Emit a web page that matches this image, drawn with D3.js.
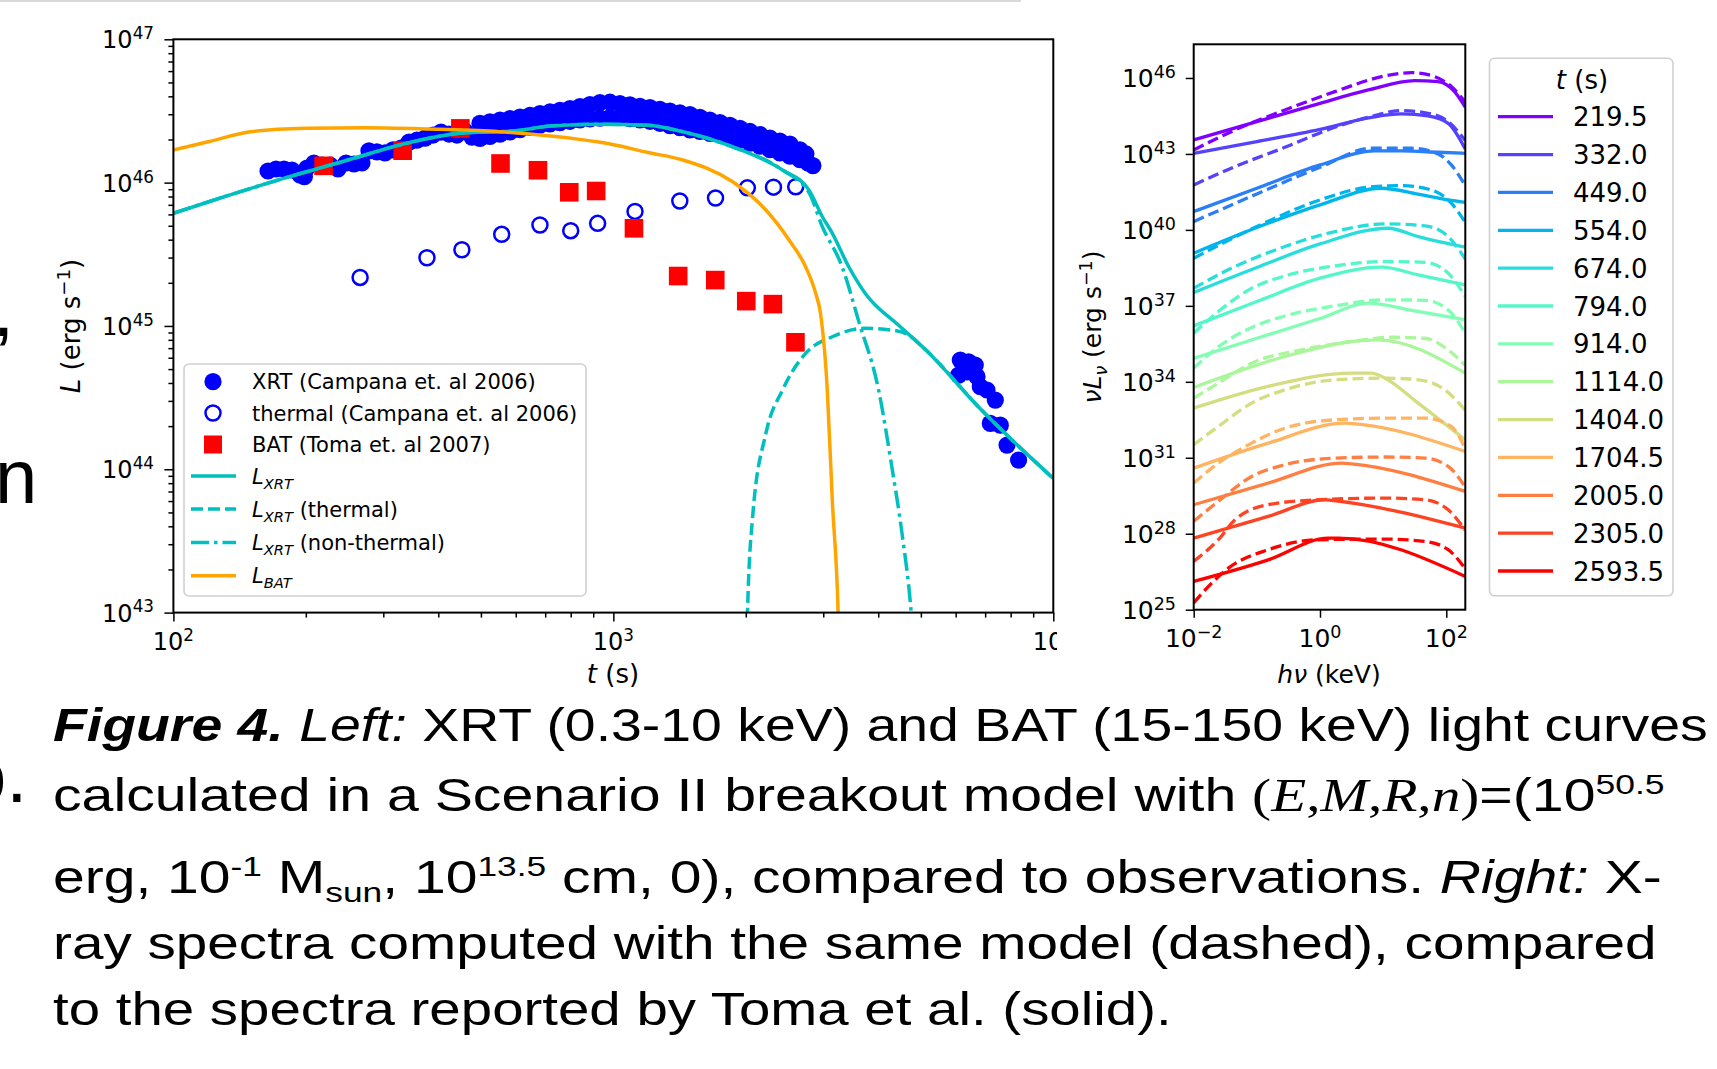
<!DOCTYPE html>
<html>
<head>
<meta charset="utf-8">
<script src="https://cdn.jsdelivr.net/npm/d3@7"></script>
<style>
body { margin: 0; background: #fff; }
svg { display: block; font-family: "DejaVu Sans", sans-serif; }
</style>
</head>
<body>
<div id="fig"></div>
<script>
// ---------- left panel data ----------
// XRT points (Campana et al. 2006): log10 t [s], log10 L [erg/s]
var xrtLogT = [2.2150, 2.2332, 2.2514, 2.2695, 2.2877, 2.2977, 2.3036, 2.3195, 2.3377, 2.3559, 2.3741, 2.3923, 2.4105, 2.4286,
    2.4445, 2.4627, 2.4809, 2.4991, 2.5173, 2.5355, 2.5536, 2.5718, 2.5900, 2.6082, 2.6264, 2.6445, 2.6627, 2.6786,
    // upper edge of the dense band
    2.6968, 2.7195, 2.7423, 2.7650, 2.7877, 2.8105, 2.8332, 2.8559, 2.8786, 2.9014, 2.9241, 2.9468, 2.9695, 2.9923,
    3.0150, 3.0377, 3.0605, 3.0832, 3.1059, 3.1286, 3.1514, 3.1741, 3.1968, 3.2195, 3.2423, 3.2650, 3.2877, 3.3105,
    3.3332, 3.3559, 3.3786, 3.4014, 3.4241, 3.4377,
    // lower edge of the dense band
    2.6968, 2.7195, 2.7423, 2.7650, 2.7877, 2.8105, 2.8332, 2.8559, 2.8786, 2.9014, 2.9241, 2.9468, 2.9695, 2.9923,
    3.0150, 3.0377, 3.0605, 3.0832, 3.1059, 3.1286, 3.1514, 3.1741, 3.1968, 3.2195, 3.2423, 3.2650, 3.2877, 3.3105,
    3.3332, 3.3559, 3.3786, 3.4014, 3.4241, 3.4423, 3.4536,
    // late points
    3.7886, 3.8075, 3.8227, 3.7848, 3.8039, 3.8266, 3.8341, 3.8493, 3.8682, 3.8568, 3.8795, 3.8948, 3.9211];
var xrtLogL = [46.081, 46.095, 46.095, 46.088, 46.053, 46.041, 46.102, 46.137, 46.123, 46.123, 46.095, 46.137, 46.130, 46.137,
    46.221, 46.214, 46.207, 46.228, 46.241, 46.283, 46.297, 46.311, 46.332, 46.353, 46.339, 46.332, 46.360, 46.318,
    46.413, 46.424, 46.436, 46.447, 46.458, 46.470, 46.482, 46.493, 46.505, 46.517, 46.530, 46.544, 46.558, 46.561,
    46.551, 46.542, 46.532, 46.523, 46.512, 46.499, 46.486, 46.474, 46.456, 46.437, 46.419, 46.400, 46.378, 46.357,
    46.335, 46.311, 46.290, 46.269, 46.228, 46.200,
    46.309, 46.323, 46.338, 46.354, 46.369, 46.385, 46.401, 46.410, 46.419, 46.428, 46.438, 46.444, 46.450, 46.456,
    46.456, 46.447, 46.438, 46.428, 46.414, 46.398, 46.383, 46.368, 46.357, 46.344, 46.332, 46.319, 46.297, 46.276,
    46.255, 46.230, 46.207, 46.184, 46.160, 46.137, 46.119,
    44.762, 44.750, 44.727, 44.657, 44.680, 44.646, 44.576, 44.553, 44.483, 44.320, 44.308, 44.169, 44.064];

// thermal component (open circles), t in s, L in erg/s
var thermT = [265.7, 377, 452.6, 557.5, 681, 800, 921, 1120, 1416, 1707, 2016, 2312, 2597];
var thermL = [2.18e45, 2.99e45, 3.4e45, 4.36e45, 5.06e45, 4.62e45, 5.2e45, 6.3e45, 7.44e45, 7.81e45, 9.2e45, 9.3e45, 9.36e45];

// BAT (Toma et al. 2007)
var batT = [219.5, 332, 449, 554, 674, 794, 914, 1114, 1404, 1704.5, 2005, 2305, 2593.5];
var batL = [1.31e46, 1.67e46, 2.39e46, 1.36e46, 1.22e46, 8.56e45, 8.74e45, 4.8e45, 2.23e45, 2.09e45, 1.49e45, 1.42e45, 7.69e44];

// model curves
var lxrtT = [100, 130, 178, 245, 350, 447, 600, 719, 919, 1200, 1439, 1867, 2424, 2785, 2986, 3146, 3428, 3738, 4446, 5112, 6868, 10000];
var lxrtL = [6.11e45, 7.94e45, 1.07e46, 1.416e46, 1.928e46, 2.208e46, 2.301e46, 2.483e46, 2.553e46, 2.512e46, 2.265e46, 1.778e46,
    1.225e46, 8.87e45, 5.78e45, 4.43e45, 2.588e45, 1.687e45, 1.014e45, 6.87e44, 2.588e44, 8.63e43];

var lthT = [2000, 2018, 2073, 2222, 2424, 2735, 3145, 3740, 4295, 4689, 5112, 6868, 10000];
var lthL = [1e42, 1e43, 4.66e43, 1.78e44, 3.57e44, 6.44e44, 8.41e44, 9.62e44, 9.35e44, 8.65e44, 6.87e44, 2.59e44, 8.63e43];

var lntT = [100, 130, 178, 245, 350, 447, 600, 719, 919, 1200, 1439, 1867, 2424, 2785, 2986, 3311, 3614, 4008, 4295, 4530, 4753, 4900];
var lntL = [6.11e45, 7.94e45, 1.07e46, 1.416e46, 1.928e46, 2.208e46, 2.301e46, 2.483e46, 2.553e46, 2.512e46, 2.265e46, 1.778e46,
    1.225e46, 8.51e45, 4.92e45, 2.59e45, 1.072e45, 3.57e44, 1.04e44, 3.57e43, 1e43, 2.5e42];

var lbatT = [100, 120, 150, 200, 271, 400, 550, 719, 983, 1200, 1439, 1867, 2222, 2508, 2735, 2884, 2957, 3064, 3145, 3243, 3300];
var lbatL = [1.687e46, 1.928e46, 2.265e46, 2.393e46, 2.415e46, 2.355e46, 2.265e46, 2.113e46, 1.858e46, 1.622e46, 1.439e46, 1.014e46,
    6.44e45, 3.98e45, 2.59e45, 1.687e45, 1.224e45, 3.57e44, 6.10e43, 1e43, 1e42];

// ---------- right panel data: [log10(hv/keV), log10(vLv)] ----------
var specTimes = ["219.5", "332.0", "449.0", "554.0", "674.0", "794.0", "914.0", "1114.0", "1404.0", "1704.5", "2005.0", "2305.0", "2593.5"];

var specSolid = [
    [[-2, 43.553], [-1, 44.276], [0, 45.0], [0.765, 45.526], [1.5, 45.895], [1.87, 45.855], [2.13, 45.46], [2.3, 44.85]],
    [[-2, 43.026], [-1, 43.487], [0, 43.97], [0.816, 44.447], [1.29, 44.579], [1.71, 44.5], [2.03, 44.21], [2.3, 43.2]],
    [[-2, 40.724], [-1, 41.645], [0, 42.566], [0.87, 43.118], [1.29, 43.118], [1.87, 43.066], [2.3, 43.026]],
    [[-2, 39.079], [-1, 40.092], [0, 40.987], [0.975, 41.645], [1.555, 41.408], [2.03, 41.184], [2.3, 41.09]],
    [[-2, 37.526], [-1, 38.513], [0, 39.447], [1.08, 40.066], [1.555, 39.737], [2.3, 39.316]],
    [[-2, 36.21], [-1, 37.17], [0, 38.092], [0.975, 38.526], [1.555, 38.224], [2.3, 37.83]],
    [[-2, 34.93], [-1, 35.72], [0, 36.5], [0.765, 37.105], [1.5, 36.8], [2.3, 36.45]],
    [[-2, 33.776], [-0.555, 35.0], [0.5, 35.592], [0.922, 35.658], [2.3, 34.342]],
    [[-2, 32.96], [-0.82, 33.82], [0.5, 34.34], [0.817, 34.34], [1.03, 34.145], [1.555, 33.158], [2.3, 31.71]],
    [[-2, 30.59], [-0.82, 31.58], [0.395, 32.368], [0.606, 32.33], [2.3, 31.25]],
    [[-2, 29.145], [-0.82, 30.0], [0.342, 30.79], [0.5, 30.76], [2.3, 29.671]],
    [[-2, 27.83], [-0.82, 28.684], [0.078, 29.342], [0.184, 29.316], [2.3, 28.224]],
    [[-2, 26.118], [-0.82, 26.97], [0.13, 27.829], [0.29, 27.829], [2.3, 26.316]]
];

var specModel = [
    [[-2, 43.158], [-1.346, 43.947], [-0.555, 44.737], [0.236, 45.46], [1.03, 46.08], [1.45, 46.21], [1.82, 46.05], [2.08, 45.66], [2.3, 45.05]],
    [[-2, 41.776], [-1.346, 42.5], [-0.555, 43.263], [0.236, 44.053], [0.765, 44.447], [1.29, 44.71], [1.71, 44.605], [2.03, 44.276], [2.3, 43.53]],
    [[-2, 40.33], [-1, 41.42], [0, 42.474], [0.816, 43.224], [1.45, 43.224], [1.87, 43.0], [2.08, 42.566], [2.3, 41.75]],
    [[-2, 38.882], [-1, 40.132], [0, 41.184], [0.765, 41.684], [1.29, 41.75], [1.76, 41.579], [2.08, 41.053], [2.3, 40.3]],
    [[-2, 37.697], [-1.346, 38.553], [-0.555, 39.342], [0.236, 39.934], [1.03, 40.237], [1.66, 40.158], [2.03, 39.737], [2.3, 38.85]],
    [[-2, 35.92], [-1.61, 36.776], [-1.08, 37.697], [-0.555, 38.184], [0.236, 38.579], [1.03, 38.75], [1.66, 38.72], [2.03, 38.29], [2.3, 37.37]],
    [[-2, 34.54], [-1.6, 35.4], [-1.08, 36.15], [-0.555, 36.6], [0.236, 37.0], [1.03, 37.24], [1.66, 37.22], [2.03, 36.84], [2.3, 35.92]],
    [[-2, 33.355], [-1.61, 33.947], [-1.082, 34.737], [-0.291, 35.263], [0.5, 35.59], [1.13, 35.76], [1.66, 35.72], [2.03, 35.26], [2.3, 34.65]],
    [[-2, 31.513], [-1.61, 32.237], [-1.08, 33.16], [-0.555, 33.684], [0.236, 34.08], [1.03, 34.145], [1.555, 34.08], [1.977, 33.684], [2.3, 32.88]],
    [[-2, 30.0], [-1.61, 30.79], [-1.082, 31.58], [-0.555, 32.17], [0.236, 32.5], [1.03, 32.566], [1.66, 32.566], [2.08, 32.237], [2.3, 31.36]],
    [[-2, 28.487], [-1.61, 29.28], [-1.08, 30.263], [-0.555, 30.724], [0.236, 30.987], [1.03, 31.03], [1.66, 30.987], [2.03, 30.66], [2.3, 29.85]],
    [[-2, 26.908], [-1.61, 27.763], [-1.346, 28.55], [-0.82, 29.145], [-0.028, 29.342], [1.03, 29.408], [1.66, 29.342], [2.03, 28.947], [2.3, 28.14]],
    [[-2, 25.263], [-1.715, 26.05], [-1.45, 26.64], [-0.82, 27.37], [-0.028, 27.763], [1.03, 27.79], [1.66, 27.697], [2.03, 27.37], [2.3, 26.62]]
];

// ---------- setup ----------
var svg = d3.select("#fig").append("svg")
    .attr("width", 1717)
    .attr("height", 1069);

// matplotlib "rainbow" colormap
function rainbow(v) {
    var r = Math.min(1, Math.abs(2 * v - 0.5));
    var g = Math.sin(Math.PI * v);
    var b = Math.cos(Math.PI * v / 2);
    return d3.rgb(r * 255, g * 255, b * 255).formatHex();
}

// text built from pieces (for sub/superscripts and mixed styles)
function richText(g, x, y, segs, size, family) {
    var t = g.append("text").attr("x", x).attr("y", y).attr("font-size", size);
    if (family) t.attr("font-family", family);
    var cur = 0;
    segs.forEach(function(s) {
        var sh = (s.shift || 0) * size;
        var ts = t.append("tspan").attr("dy", sh - cur).text(s.t);
        cur = sh;
        if (s.size) ts.attr("font-size", s.size * size);
        if (s.italic) ts.attr("font-style", "italic");
        if (s.bold) ts.attr("font-weight", "bold");
        if (s.family) ts.attr("font-family", s.family);
    });
    return t;
}

function powLabel(g, x, y, exp, size, anchor) {
    return richText(g, x, y, [{t: "10"}, {t: exp, shift: -0.38, size: 0.7}], size).attr("text-anchor", anchor);
}

function zip(a, b) { return a.map((v, i) => [v, b[i]]); }

// thin grey rule at top
svg.append("rect").attr("x", 0).attr("y", 0).attr("width", 1021).attr("height", 2).attr("fill", "#d9d9d9");

// ================= LEFT PANEL =================
var lp = {left: 173.4, right: 1053.3, top: 39.3, bottom: 612.6};
var xL = d3.scaleLog().domain([100, 10000]).range([lp.left, lp.right]);
var yL = d3.scaleLog().domain([1e43, 1e47]).range([lp.bottom, lp.top]);

svg.append("clipPath").attr("id", "clipL").append("rect")
    .attr("x", lp.left).attr("y", lp.top)
    .attr("width", lp.right - lp.left).attr("height", lp.bottom - lp.top);

var gl = svg.append("g");
var plotL = gl.append("g").attr("clip-path", "url(#clipL)");

// markers
plotL.append("g").selectAll("circle")
    .data(d3.range(xrtLogT.length))
    .enter().append("circle")
    .attr("cx", i => xL(Math.pow(10, xrtLogT[i])))
    .attr("cy", i => yL(Math.pow(10, xrtLogL[i])))
    .attr("r", 8.6)
    .attr("fill", "#0000ff");

plotL.append("g").selectAll("circle")
    .data(d3.range(thermT.length))
    .enter().append("circle")
    .attr("cx", i => xL(thermT[i]))
    .attr("cy", i => yL(thermL[i]))
    .attr("r", 7.5)
    .attr("fill", "none")
    .attr("stroke", "#0000ff")
    .attr("stroke-width", 2.5);

plotL.append("g").selectAll("rect")
    .data(d3.range(batT.length))
    .enter().append("rect")
    .attr("x", i => xL(batT[i]) - 9.3)
    .attr("y", i => yL(batL[i]) - 9.3)
    .attr("width", 18.6)
    .attr("height", 18.6)
    .attr("fill", "#ff0000");

// model curves
var lineL = d3.line()
    .x(d => xL(d[0]))
    .y(d => yL(d[1]))
    .curve(d3.curveMonotoneX);

plotL.append("path").datum(zip(lxrtT, lxrtL))
    .attr("d", lineL).attr("fill", "none").attr("stroke", "#00bfbf").attr("stroke-width", 3.5);
plotL.append("path").datum(zip(lthT, lthL))
    .attr("d", lineL).attr("fill", "none").attr("stroke", "#00bfbf").attr("stroke-width", 3.5)
    .attr("stroke-dasharray", "12,5");
plotL.append("path").datum(zip(lntT, lntL))
    .attr("d", lineL).attr("fill", "none").attr("stroke", "#00bfbf").attr("stroke-width", 3.5)
    .attr("stroke-dasharray", "18,5,3.5,5");
plotL.append("path").datum(zip(lbatT, lbatL))
    .attr("d", lineL).attr("fill", "none").attr("stroke", "#ffa500").attr("stroke-width", 3.5);

// axes
var minorX = [], minorY = [];
[100, 1000].forEach(function(d) { for (var m = 2; m < 10; m++) minorX.push(m * d); });
[1e43, 1e44, 1e45, 1e46].forEach(function(d) { for (var m = 2; m < 10; m++) minorY.push(m * d); });

function styleAxis(g) {
    g.select(".domain").remove();
    g.selectAll("line").attr("stroke", "#000").attr("stroke-width", 1.5);
}

gl.append("g").attr("transform", `translate(0, ${lp.bottom})`)
    .call(d3.axisBottom(xL).tickValues([100, 1000, 10000]).tickSize(9).tickFormat(""))
    .call(styleAxis);
gl.append("g").attr("transform", `translate(0, ${lp.bottom})`)
    .call(d3.axisBottom(xL).tickValues(minorX).tickSize(5).tickFormat(""))
    .call(styleAxis);
gl.append("g").attr("transform", `translate(${lp.left}, 0)`)
    .call(d3.axisLeft(yL).tickValues([1e43, 1e44, 1e45, 1e46, 1e47]).tickSize(9).tickFormat(""))
    .call(styleAxis);
gl.append("g").attr("transform", `translate(${lp.left}, 0)`)
    .call(d3.axisLeft(yL).tickValues(minorY).tickSize(5).tickFormat(""))
    .call(styleAxis);

[[100, "2"], [1000, "3"], [10000, "4"]].forEach(function(d) {
    powLabel(gl, xL(d[0]), 650, d[1], 24, "middle");
});
[[1e43, "43"], [1e44, "44"], [1e45, "45"], [1e46, "46"], [1e47, "47"]].forEach(function(d) {
    powLabel(gl, 154, yL(d[0]) + 9, d[1], 24, "end");
});

gl.append("rect")
    .attr("x", lp.left).attr("y", lp.top)
    .attr("width", lp.right - lp.left).attr("height", lp.bottom - lp.top)
    .attr("fill", "none").attr("stroke", "#000").attr("stroke-width", 2);

// axis labels
richText(gl, 613, 683, [{t: "t", italic: true}, {t: " (s)"}], 26).attr("text-anchor", "middle");
richText(gl.append("g").attr("transform", "translate(80, 326) rotate(-90)"), 0, 0,
    [{t: "L", italic: true}, {t: " (erg s"}, {t: "\u22121", shift: -0.38, size: 0.7}, {t: ")", shift: 0}], 26)
    .attr("text-anchor", "middle");

// legend (left)
var lg = gl.append("g");
lg.append("rect").attr("x", 184).attr("y", 364).attr("width", 402).attr("height", 232)
    .attr("rx", 5).attr("fill", "#fff").attr("fill-opacity", 0.8)
    .attr("stroke", "#d0d0d0").attr("stroke-width", 1.6);
var rows = [381.7, 413, 444.5, 476, 509, 542.5, 575.7];
lg.append("circle").attr("cx", 213).attr("cy", rows[0]).attr("r", 8.6).attr("fill", "#0000ff");
lg.append("circle").attr("cx", 213).attr("cy", rows[1]).attr("r", 7.5).attr("fill", "none")
    .attr("stroke", "#0000ff").attr("stroke-width", 2.5);
lg.append("rect").attr("x", 204).attr("y", rows[2] - 9).attr("width", 18).attr("height", 18).attr("fill", "#ff0000");
lg.append("line").attr("x1", 191).attr("x2", 236).attr("y1", rows[3]).attr("y2", rows[3])
    .attr("stroke", "#00bfbf").attr("stroke-width", 3.5);
lg.append("line").attr("x1", 191).attr("x2", 236).attr("y1", rows[4]).attr("y2", rows[4])
    .attr("stroke", "#00bfbf").attr("stroke-width", 3.5).attr("stroke-dasharray", "12,5");
lg.append("line").attr("x1", 191).attr("x2", 236).attr("y1", rows[5]).attr("y2", rows[5])
    .attr("stroke", "#00bfbf").attr("stroke-width", 3.5).attr("stroke-dasharray", "18,5,3.5,5");
lg.append("line").attr("x1", 191).attr("x2", 236).attr("y1", rows[6]).attr("y2", rows[6])
    .attr("stroke", "#ffa500").attr("stroke-width", 3.5);

var legTexts = [
    [{t: "XRT (Campana et. al 2006)"}],
    [{t: "thermal (Campana et. al 2006)"}],
    [{t: "BAT (Toma et. al 2007)"}],
    [{t: "L", italic: true}, {t: "XRT", italic: true, size: 0.7, shift: 0.25}],
    [{t: "L", italic: true}, {t: "XRT", italic: true, size: 0.7, shift: 0.25}, {t: " (thermal)", shift: 0}],
    [{t: "L", italic: true}, {t: "XRT", italic: true, size: 0.7, shift: 0.25}, {t: " (non-thermal)", shift: 0}],
    [{t: "L", italic: true}, {t: "BAT", italic: true, size: 0.7, shift: 0.25}]
];
legTexts.forEach(function(s, i) {
    richText(lg, 252, rows[i] + 7.5, s, 21);
});

// cropped edge of the 10^4 label
svg.append("rect").attr("x", 1057).attr("y", 616).attr("width", 22).attr("height", 45).attr("fill", "#fff");

// ================= RIGHT PANEL =================
var rp = {left: 1193.7, right: 1465.3, top: 44.3, bottom: 609.7};
var xR = d3.scaleLog().domain([0.01, 200]).range([rp.left, rp.right]);
var yR = d3.scaleLog().domain([1e25, Math.pow(10, 47.33)]).range([rp.bottom, rp.top]);

svg.append("clipPath").attr("id", "clipR").append("rect")
    .attr("x", rp.left).attr("y", rp.top)
    .attr("width", rp.right - rp.left).attr("height", rp.bottom - rp.top);

var gr = svg.append("g");
var plotR = gr.append("g").attr("clip-path", "url(#clipR)");

var lineR = d3.line()
    .x(d => xR(Math.pow(10, d[0])))
    .y(d => yR(Math.pow(10, d[1])))
    .curve(d3.curveMonotoneX);

specTimes.forEach(function(t, i) {
    var col = rainbow(i / (specTimes.length - 1));
    plotR.append("path").datum(specSolid[i])
        .attr("d", lineR).attr("fill", "none").attr("stroke", col).attr("stroke-width", 3.3);
    plotR.append("path").datum(specModel[i])
        .attr("d", lineR).attr("fill", "none").attr("stroke", col).attr("stroke-width", 3.3)
        .attr("stroke-dasharray", "11,5");
});

var yTicksR = [25, 28, 31, 34, 37, 40, 43, 46];
gr.append("g").attr("transform", `translate(${rp.left}, 0)`)
    .call(d3.axisLeft(yR).tickValues(yTicksR.map(e => Math.pow(10, e))).tickSize(8).tickFormat(""))
    .call(styleAxis);
gr.append("g").attr("transform", `translate(0, ${rp.bottom})`)
    .call(d3.axisBottom(xR).tickValues([0.01, 1, 100]).tickSize(8).tickFormat(""))
    .call(styleAxis);

yTicksR.forEach(function(e) {
    powLabel(gr, 1176, yR(Math.pow(10, e)) + 9.5, String(e), 25, "end");
});
[[0.01, "\u22122"], [1, "0"], [100, "2"]].forEach(function(d) {
    powLabel(gr, xR(d[0]), 647, d[1], 25, "middle");
});

gr.append("rect")
    .attr("x", rp.left).attr("y", rp.top)
    .attr("width", rp.right - rp.left).attr("height", rp.bottom - rp.top)
    .attr("fill", "none").attr("stroke", "#000").attr("stroke-width", 2);

richText(gr, 1329, 683, [{t: "h\u03bd", italic: true}, {t: " (keV)"}], 25).attr("text-anchor", "middle");
richText(gr.append("g").attr("transform", "translate(1101, 327) rotate(-90)"), 0, 0,
    [{t: "\u03bdL", italic: true}, {t: "\u03bd", italic: true, size: 0.7, shift: 0.25},
     {t: " (erg s", shift: 0}, {t: "\u22121", shift: -0.38, size: 0.7}, {t: ")", shift: 0}], 25)
    .attr("text-anchor", "middle");

// legend (right)
var rg = gr.append("g");
rg.append("rect").attr("x", 1489.5).attr("y", 58.3).attr("width", 183.5).attr("height", 537.5)
    .attr("rx", 5).attr("fill", "#fff").attr("fill-opacity", 0.8)
    .attr("stroke", "#d0d0d0").attr("stroke-width", 1.6);
richText(rg, 1582, 89, [{t: "t", italic: true}, {t: " (s)"}], 26).attr("text-anchor", "middle");
specTimes.forEach(function(t, i) {
    var cy = 116.7 + i * 37.86;
    rg.append("line").attr("x1", 1498).attr("x2", 1553).attr("y1", cy).attr("y2", cy)
        .attr("stroke", rainbow(i / (specTimes.length - 1))).attr("stroke-width", 3.3);
    rg.append("text").attr("x", 1573).attr("y", cy + 9.5).attr("font-size", 26).text(t);
});

// ================= CAPTION =================
var cap = svg.append("g").attr("font-family", "'Liberation Sans', Arial, sans-serif");
var serif = "'Liberation Serif', 'Times New Roman', serif";
var capLines = [
    [{t: "Figure 4.", bold: true, italic: true}, {t: " Left:", italic: true}, {t: " XRT (0.3-10 keV) and BAT (15-150 keV) light curves"}],
    [{t: "calculated in a Scenario II breakout model with "}, {t: "(", family: serif},
     {t: "E", family: serif, italic: true}, {t: ",", family: serif}, {t: "M", family: serif, italic: true},
     {t: ",", family: serif}, {t: "R", family: serif, italic: true}, {t: ",", family: serif},
     {t: "n", family: serif, italic: true}, {t: ")", family: serif}, {t: "=(10"},
     {t: "50.5", shift: -0.38, size: 0.62}],
    [{t: "erg, 10"}, {t: "-1", shift: -0.38, size: 0.62}, {t: " M", shift: 0}, {t: "sun", shift: 0.2, size: 0.62},
     {t: ", 10", shift: 0}, {t: "13.5", shift: -0.38, size: 0.62}, {t: " cm, 0), compared to observations. ", shift: 0},
     {t: "Right:", italic: true}, {t: " X-"}],
    [{t: "ray spectra computed with the same model (dashed), compared"}],
    [{t: "to the spectra reported by Toma et al. (solid)."}]
];
var capY = [741, 811, 893, 959, 1025];
var capEnd = [1708, 1665, 1662, 1657, 1172];
capLines.forEach(function(s, i) {
    var g = cap.append("g");
    var t = richText(g, 0, 0, s, 45.5);
    var sx = (capEnd[i] - 53) / t.node().getComputedTextLength();
    g.attr("transform", `translate(53, ${capY[i]}) scale(${sx}, 1)`);
});

// fragments of the neighbouring column
var frag = svg.append("g").attr("font-family", "'Liberation Sans', Arial, sans-serif").attr("font-size", 76);
frag.append("text").attr("x", -7).attr("y", 336).text(",");
frag.append("text").attr("x", -5).attr("y", 503).text("n");
frag.append("text").attr("x", -36).attr("y", 802).text("o.");
</script>
</body>
</html>
